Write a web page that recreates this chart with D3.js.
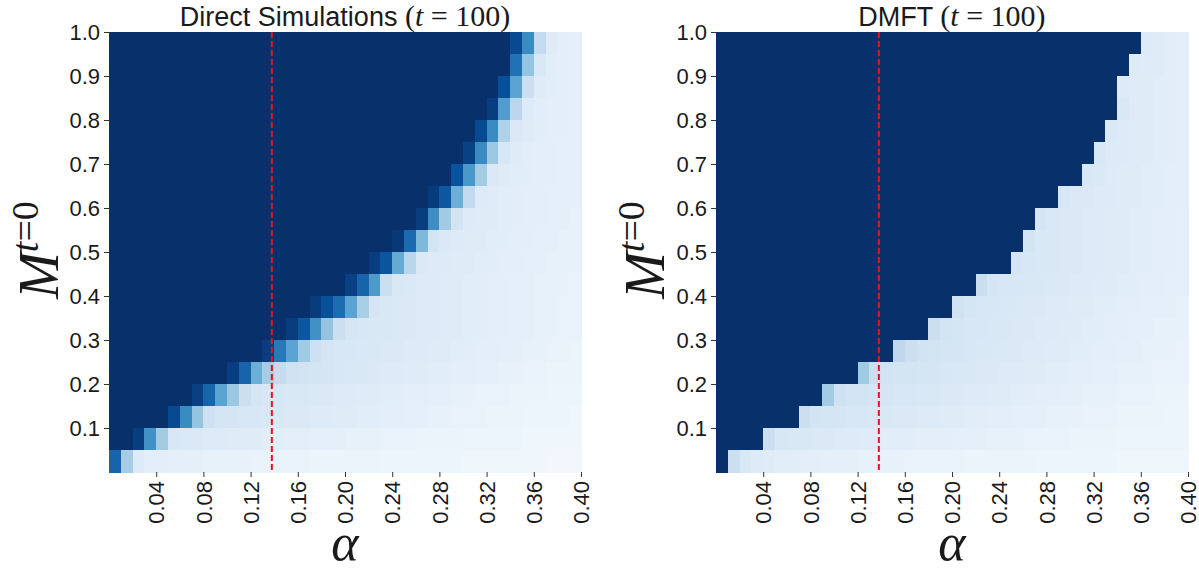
<!DOCTYPE html>
<html>
<head>
<meta charset="utf-8">
<script src="https://cdn.jsdelivr.net/npm/d3@7"></script>
<style>
  body { margin: 0; background: #fff; }
  text { font-family: "Liberation Sans", Arial, sans-serif; fill: #1a1a1a; }
  .math { font-family: "Liberation Serif", "DejaVu Serif", serif; }
</style>
</head>
<body>
<svg id="chart" width="1199" height="575"></svg>
<script>
// alpha value at the right edge of each column
var alphas = [0.01, 0.02, 0.03, 0.04, 0.05, 0.06, 0.07, 0.08, 0.09, 0.10,
              0.11, 0.12, 0.13, 0.14, 0.15, 0.16, 0.17, 0.18, 0.19, 0.20,
              0.21, 0.22, 0.23, 0.24, 0.25, 0.26, 0.27, 0.28, 0.29, 0.30,
              0.31, 0.32, 0.33, 0.34, 0.35, 0.36, 0.37, 0.38, 0.39, 0.40];
// M^{t=0} at the top edge of each row, top row first
var mValues = [1.00, 0.95, 0.90, 0.85, 0.80, 0.75, 0.70, 0.65, 0.60, 0.55,
               0.50, 0.45, 0.40, 0.35, 0.30, 0.25, 0.20, 0.15, 0.10, 0.05];
var xTicks = [0.04, 0.08, 0.12, 0.16, 0.20, 0.24, 0.28, 0.32, 0.36, 0.40];
var yTicks = [0.1, 0.2, 0.3, 0.4, 0.5, 0.6, 0.7, 0.8, 0.9, 1.0];
var alphaCritical = 0.138;

// final overlap (percent), direct simulations
var simRows = [
  [100,100,100,100,100,100,100,100,100,100, 100,100,100,100,100,100,100,100,100,100, 100,100,100,100,100,100,100,100,100,100, 100,100,100,100,90,65,25,12,10,9],
  [100,100,100,100,100,100,100,100,100,100, 100,100,100,100,100,100,100,100,100,100, 100,100,100,100,100,100,100,100,100,100, 100,100,100,100,75,40,15,11,10,9],
  [100,100,100,100,100,100,100,100,100,100, 100,100,100,100,100,100,100,100,100,100, 100,100,100,100,100,100,100,100,100,100, 100,100,100,88,55,22,12,11,10,9],
  [100,100,100,100,100,100,100,100,100,100, 100,100,100,100,100,100,100,100,100,100, 100,100,100,100,100,100,100,100,100,100, 100,100,95,58,28,13,11,10,10,9],
  [100,100,100,100,100,100,100,100,100,100, 100,100,100,100,100,100,100,100,100,100, 100,100,100,100,100,100,100,100,100,100, 100,90,65,32,14,12,11,10,10,9],
  [100,100,100,100,100,100,100,100,100,100, 100,100,100,100,100,100,100,100,100,100, 100,100,100,100,100,100,100,100,100,100, 93,65,38,16,12,11,10,10,9,9],
  [100,100,100,100,100,100,100,100,100,100, 100,100,100,100,100,100,100,100,100,100, 100,100,100,100,100,100,100,100,100,87, 60,36,14,12,11,11,10,10,9,9],
  [100,100,100,100,100,100,100,100,100,100, 100,100,100,100,100,100,100,100,100,100, 100,100,100,100,100,100,100,96,85,50, 26,13,12,11,11,10,10,9,9,9],
  [100,100,100,100,100,100,100,100,100,100, 100,100,100,100,100,100,100,100,100,100, 100,100,100,100,100,100,95,64,37,18, 13,12,12,11,11,10,10,9,9,8],
  [100,100,100,100,100,100,100,100,100,100, 100,100,100,100,100,100,100,100,100,100, 100,100,100,100,97,78,45,18,14,13, 12,12,11,11,10,10,9,9,8,8],
  [100,100,100,100,100,100,100,100,100,100, 100,100,100,100,100,100,100,100,100,100, 100,100,95,86,52,29,14,13,13,12, 12,11,11,10,10,9,9,8,8,8],
  [100,100,100,100,100,100,100,100,100,100, 100,100,100,100,100,100,100,100,100,100, 94,80,59,22,15,14,13,13,12,12, 11,11,10,10,9,9,8,8,8,7],
  [100,100,100,100,100,100,100,100,100,100, 100,100,100,100,100,100,100,96,88,77, 55,34,17,15,14,14,13,13,12,12, 11,11,10,10,9,9,8,8,7,7],
  [100,100,100,100,100,100,100,100,100,100, 100,100,100,100,100,95,85,63,40,22, 17,16,15,15,14,14,13,13,12,12, 11,11,10,10,9,9,8,8,7,7],
  [100,100,100,100,100,100,100,100,100,100, 100,100,100,95,72,55,37,21,17,16, 16,15,15,14,14,13,13,12,12,11, 11,10,10,9,9,8,8,7,7,6],
  [100,100,100,100,100,100,100,100,100,100, 95,80,50,35,24,20,19,18,17,16, 15,15,14,13,13,12,12,11,11,10, 10,9,9,8,8,7,7,6,6,6],
  [100,100,100,100,100,100,100,94,80,55, 38,22,17,16,16,15,15,14,14,13, 13,12,12,11,11,10,10,9,9,8, 8,7,7,7,6,6,6,5,5,5],
  [100,100,100,100,100,90,65,40,21,17, 17,16,16,15,15,14,14,13,13,12, 12,11,11,10,10,9,9,8,8,7, 7,7,6,6,6,5,5,5,5,4],
  [100,100,95,63,36,16,14,14,13,13, 12,12,12,11,11,10,10,9,9,9, 8,8,8,7,7,7,6,6,6,6, 5,5,5,5,5,4,4,4,4,4],
  [80,35,13,10,10,9,9,9,8,8, 8,8,7,7,7,7,7,6,6,6, 6,6,6,5,5,5,5,5,5,5, 4,4,4,4,4,4,4,3,3,3]
];

// final overlap (percent), DMFT
var dmftRows = [
  [100,100,100,100,100,100,100,100,100,100, 100,100,100,100,100,100,100,100,100,100, 100,100,100,100,100,100,100,100,100,100, 100,100,100,100,100,100,13,12,11,10],
  [100,100,100,100,100,100,100,100,100,100, 100,100,100,100,100,100,100,100,100,100, 100,100,100,100,100,100,100,100,100,100, 100,100,100,100,100,13,12,12,11,10],
  [100,100,100,100,100,100,100,100,100,100, 100,100,100,100,100,100,100,100,100,100, 100,100,100,100,100,100,100,100,100,100, 100,100,100,100,13,12,12,11,11,10],
  [100,100,100,100,100,100,100,100,100,100, 100,100,100,100,100,100,100,100,100,100, 100,100,100,100,100,100,100,100,100,100, 100,100,100,100,15,12,12,11,11,10],
  [100,100,100,100,100,100,100,100,100,100, 100,100,100,100,100,100,100,100,100,100, 100,100,100,100,100,100,100,100,100,100, 100,100,100,14,13,12,12,11,11,10],
  [100,100,100,100,100,100,100,100,100,100, 100,100,100,100,100,100,100,100,100,100, 100,100,100,100,100,100,100,100,100,100, 100,100,15,13,13,12,12,11,11,10],
  [100,100,100,100,100,100,100,100,100,100, 100,100,100,100,100,100,100,100,100,100, 100,100,100,100,100,100,100,100,100,100, 100,15,14,13,12,12,11,11,10,10],
  [100,100,100,100,100,100,100,100,100,100, 100,100,100,100,100,100,100,100,100,100, 100,100,100,100,100,100,100,100,100,16, 14,14,13,13,12,12,11,11,10,10],
  [100,100,100,100,100,100,100,100,100,100, 100,100,100,100,100,100,100,100,100,100, 100,100,100,100,100,100,100,17,15,14, 14,13,13,12,12,11,11,10,10,9],
  [100,100,100,100,100,100,100,100,100,100, 100,100,100,100,100,100,100,100,100,100, 100,100,100,100,100,100,18,15,15,14, 14,13,13,12,12,11,11,10,10,9],
  [100,100,100,100,100,100,100,100,100,100, 100,100,100,100,100,100,100,100,100,100, 100,100,100,100,100,17,16,15,15,14, 14,13,13,12,12,11,11,10,10,9],
  [100,100,100,100,100,100,100,100,100,100, 100,100,100,100,100,100,100,100,100,100, 100,100,23,17,16,16,15,15,14,14, 13,13,12,12,11,11,10,10,9,9],
  [100,100,100,100,100,100,100,100,100,100, 100,100,100,100,100,100,100,100,100,100, 20,17,16,16,15,15,14,14,13,13, 12,12,11,11,10,10,9,9,9,8],
  [100,100,100,100,100,100,100,100,100,100, 100,100,100,100,100,100,100,100,22,18, 17,16,16,15,15,14,14,13,13,12, 12,11,11,10,10,9,9,8,8,8],
  [100,100,100,100,100,100,100,100,100,100, 100,100,100,100,100,27,22,19,18,17, 17,16,15,15,14,14,13,13,12,12, 11,11,10,10,9,9,8,8,8,7],
  [100,100,100,100,100,100,100,100,100,100, 100,100,37,22,19,18,18,17,17,16, 15,15,14,14,13,13,12,12,11,11, 10,10,9,9,8,8,8,7,7,7],
  [100,100,100,100,100,100,100,100,100,36, 20,18,18,17,17,16,16,15,15,14, 14,13,13,12,12,11,11,10,10,9, 9,8,8,8,7,7,7,6,6,6],
  [100,100,100,100,100,100,100,22,18,17, 17,16,16,15,15,14,14,13,13,12, 12,11,11,10,10,9,9,9,8,8, 8,7,7,7,6,6,6,6,5,5],
  [100,100,100,100,22,16,15,15,14,14, 13,13,12,12,11,11,11,10,10,10, 9,9,9,8,8,8,7,7,7,7, 6,6,6,6,5,5,5,5,5,5],
  [100,22,15,13,12,11,11,10,10,9, 9,9,8,8,8,8,7,7,7,7, 7,6,6,6,6,6,6,5,5,5, 5,5,5,5,4,4,4,4,4,4]
];

// matplotlib "Blues"
var blues = d3.scaleLinear()
  .domain([0, 0.125, 0.25, 0.375, 0.5, 0.625, 0.75, 0.875, 1])
  .range(["#f7fbff", "#deebf7", "#c6dbef", "#9ecae1", "#6baed6",
          "#4292c6", "#2171b5", "#08519c", "#08306b"])
  .interpolate(d3.interpolateRgb)
  .clamp(true);

var svg = d3.select("#chart");
var plotTop = 32, plotBottom = 472, plotW = 472;

var panels = [
  { name: "Direct Simulations ", left: 109, rows: simRows, ylabX: 58 },
  { name: "DMFT ", left: 716, rows: dmftRows, ylabX: 664 }
];

var yScale = d3.scaleLinear().domain([0, 1]).range([plotBottom, plotTop]);

panels.forEach(function(p) {
  var xScale = d3.scaleLinear().domain([0, 0.4]).range([p.left, p.left + plotW]);
  var g = svg.append("g");

  // cells
  var cells = g.append("g").attr("shape-rendering", "crispEdges");
  p.rows.forEach(function(row, r) {
    var m = mValues[r];
    cells.selectAll(null)
      .data(row)
      .enter()
      .append("rect")
      .attr("x", function(d, i) { return xScale(alphas[i] - 0.01); })
      .attr("y", yScale(m))
      .attr("width", function(d, i) { return xScale(alphas[i]) - xScale(alphas[i] - 0.01) + 0.5; })
      .attr("height", yScale(m - 0.05) - yScale(m) + 0.5)
      .attr("fill", function(d) { return blues(d / 100); });
  });

  // critical capacity line
  g.append("line")
    .attr("x1", xScale(alphaCritical))
    .attr("x2", xScale(alphaCritical))
    .attr("y1", plotTop)
    .attr("y2", plotBottom)
    .attr("stroke", "#e8141c")
    .attr("stroke-width", 2)
    .attr("stroke-dasharray", "6,3");

  // axes
  var yAxis = d3.axisLeft(yScale)
    .tickValues(yTicks)
    .tickFormat(d3.format(".1f"))
    .tickSize(5)
    .tickPadding(4);
  var ya = g.append("g")
    .attr("transform", "translate(" + p.left + ",0)")
    .call(yAxis);
  ya.select(".domain").remove();
  ya.selectAll("line").attr("stroke", "#333");
  ya.selectAll("text").attr("font-size", 22).attr("fill", "#1a1a1a")
    .attr("font-family", "'Liberation Sans', Arial, sans-serif");

  var xAxis = d3.axisBottom(xScale)
    .tickValues(xTicks)
    .tickFormat(d3.format(".2f"))
    .tickSize(5);
  var xa = g.append("g")
    .attr("transform", "translate(0," + plotBottom + ")")
    .call(xAxis);
  xa.select(".domain").remove();
  xa.selectAll("line").attr("stroke", "#333");
  xa.selectAll("text")
    .attr("font-size", 22)
    .attr("fill", "#1a1a1a")
    .attr("font-family", "'Liberation Sans', Arial, sans-serif")
    .attr("transform", "rotate(-90)")
    .attr("text-anchor", "end")
    .attr("x", -9)
    .attr("y", 0)
    .attr("dy", "0.35em");

  // title
  var cx = p.left + plotW / 2;
  var t = g.append("text")
    .attr("x", cx)
    .attr("y", 26)
    .attr("text-anchor", "middle")
    .attr("font-size", 27);
  t.append("tspan").text(p.name);
  t.append("tspan").attr("class", "math").attr("font-size", 30).text("(");
  t.append("tspan").attr("class", "math").attr("font-size", 30).attr("font-style", "italic").text("t");
  t.append("tspan").attr("class", "math").attr("font-size", 30).text(" = 100)");

  // x label
  g.append("text")
    .attr("class", "math")
    .attr("x", cx)
    .attr("y", 560)
    .attr("text-anchor", "middle")
    .attr("font-size", 52)
    .attr("font-style", "italic")
    .text("\u03B1");

  // y label
  var yl = g.append("text")
    .attr("class", "math")
    .attr("transform", "translate(" + p.ylabX + ",250) rotate(-90)")
    .attr("text-anchor", "middle")
    .attr("font-size", 56);
  yl.append("tspan").attr("font-style", "italic").text("M");
  yl.append("tspan").attr("font-size", 38).attr("dy", -20).attr("font-style", "italic").text("t");
  yl.append("tspan").attr("font-size", 38).text("=0");
});
</script>
</body>
</html>
